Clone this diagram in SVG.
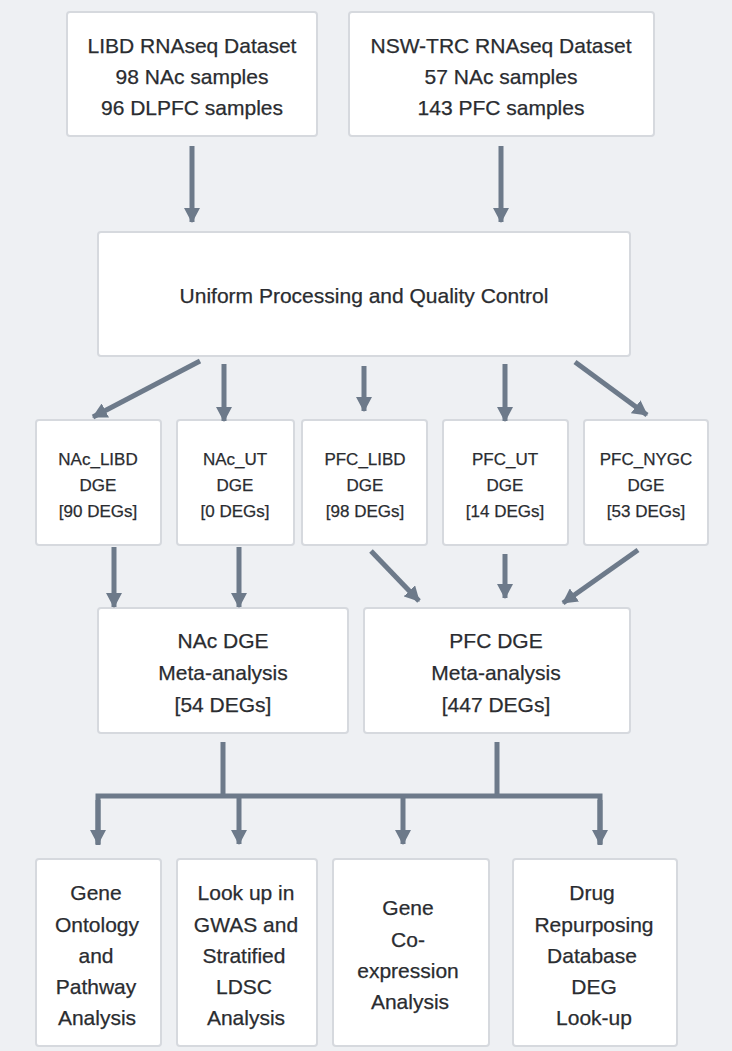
<svg xmlns="http://www.w3.org/2000/svg" width="732" height="1051" viewBox="0 0 732 1051">
<defs>
<marker id="ah" markerUnits="userSpaceOnUse" markerWidth="16" markerHeight="16" viewBox="0 0 16 16" refX="14" refY="8" orient="auto">
<path d="M0,0 L15,8 L0,16 Z" fill="#6d7a8a"/>
</marker>
<style>
.box{fill:#ffffff;stroke:#d6d9de;stroke-width:2;}
.t{font-family:"Liberation Sans","DejaVu Sans",sans-serif;fill:#2a2c30;stroke:#2a2c30;stroke-width:0.25;text-anchor:middle;}
.big{font-size:21px;}
.sm{font-size:17px;}
.c line,.c path{stroke:#6d7a8a;stroke-width:5;fill:none;}
.c .a{marker-end:url(#ah);}
</style>
</defs>
<rect width="732" height="1051" fill="#eef0f3"/>

<g id="libd">
<rect class="box" x="67" y="12" width="250" height="124" rx="3"/>
<text class="t big" x="192" y="53">LIBD RNAseq Dataset</text>
<text class="t big" x="192" y="84">98 NAc samples</text>
<text class="t big" x="192" y="115">96 DLPFC samples</text>
</g>
<g id="nswtrc">
<rect class="box" x="349" y="12" width="305" height="124" rx="3"/>
<text class="t big" x="501" y="53">NSW-TRC RNAseq Dataset</text>
<text class="t big" x="501" y="84">57 NAc samples</text>
<text class="t big" x="501" y="115">143 PFC samples</text>
</g>
<g id="uniform">
<rect class="box" x="98" y="232" width="532" height="124" rx="3"/>
<text class="t big" x="364" y="303">Uniform Processing and Quality Control</text>
</g>

<g id="nac_libd">
<rect class="box" x="36" y="420" width="125" height="125" rx="3"/>
<text class="t sm" x="98" y="465">NAc_LIBD</text>
<text class="t sm" x="98" y="491">DGE</text>
<text class="t sm" x="98" y="517">[90 DEGs]</text>
</g>
<g id="nac_ut">
<rect class="box" x="177" y="420" width="117" height="125" rx="3"/>
<text class="t sm" x="235" y="465">NAc_UT</text>
<text class="t sm" x="235" y="491">DGE</text>
<text class="t sm" x="235" y="517">[0 DEGs]</text>
</g>
<g id="pfc_libd">
<rect class="box" x="302" y="420" width="125" height="125" rx="3"/>
<text class="t sm" x="365" y="465">PFC_LIBD</text>
<text class="t sm" x="365" y="491">DGE</text>
<text class="t sm" x="365" y="517">[98 DEGs]</text>
</g>
<g id="pfc_ut">
<rect class="box" x="443" y="420" width="125" height="125" rx="3"/>
<text class="t sm" x="505" y="465">PFC_UT</text>
<text class="t sm" x="505" y="491">DGE</text>
<text class="t sm" x="505" y="517">[14 DEGs]</text>
</g>
<g id="pfc_nygc">
<rect class="box" x="584" y="420" width="124" height="125" rx="3"/>
<text class="t sm" x="646" y="465">PFC_NYGC</text>
<text class="t sm" x="646" y="491">DGE</text>
<text class="t sm" x="646" y="517">[53 DEGs]</text>
</g>

<g id="nac_meta">
<rect class="box" x="98" y="608" width="250" height="125" rx="3"/>
<text class="t big" x="223" y="648">NAc DGE</text>
<text class="t big" x="223" y="680">Meta-analysis</text>
<text class="t big" x="223" y="712">[54 DEGs]</text>
</g>
<g id="pfc_meta">
<rect class="box" x="364" y="608" width="266" height="125" rx="3"/>
<text class="t big" x="496" y="648">PFC DGE</text>
<text class="t big" x="496" y="680">Meta-analysis</text>
<text class="t big" x="496" y="712">[447 DEGs]</text>
</g>

<g id="go">
<rect class="box" x="36" y="859" width="125" height="187" rx="3"/>
<text class="t big" x="96" y="900">Gene</text>
<text class="t big" x="97" y="932">Ontology</text>
<text class="t big" x="96" y="963">and</text>
<text class="t big" x="96" y="994">Pathway</text>
<text class="t big" x="97" y="1025">Analysis</text>
</g>
<g id="gwas">
<rect class="box" x="177" y="859" width="140" height="187" rx="3"/>
<text class="t big" x="246" y="900">Look up in</text>
<text class="t big" x="246" y="932">GWAS and</text>
<text class="t big" x="244" y="963">Stratified</text>
<text class="t big" x="244" y="994">LDSC</text>
<text class="t big" x="246" y="1025">Analysis</text>
</g>
<g id="coexp">
<rect class="box" x="333" y="859" width="156" height="187" rx="3"/>
<text class="t big" x="408" y="915">Gene</text>
<text class="t big" x="408" y="947">Co-</text>
<text class="t big" x="408" y="978">expression</text>
<text class="t big" x="410" y="1009">Analysis</text>
</g>
<g id="drug">
<rect class="box" x="513" y="859" width="164" height="187" rx="3"/>
<text class="t big" x="592" y="900">Drug</text>
<text class="t big" x="594" y="932">Repurposing</text>
<text class="t big" x="592" y="963">Database</text>
<text class="t big" x="594" y="994">DEG</text>
<text class="t big" x="594" y="1025">Look-up</text>
</g>

<g id="connectors" class="c">
<line class="a" x1="192" y1="146" x2="192" y2="222"/>
<line class="a" x1="501" y1="146" x2="501" y2="222"/>
<line class="a" x1="200" y1="361" x2="93" y2="417"/>
<line class="a" x1="224" y1="364" x2="224" y2="421"/>
<line class="a" x1="364" y1="366" x2="364" y2="411"/>
<line class="a" x1="505" y1="364" x2="505" y2="421"/>
<line class="a" x1="575" y1="362" x2="647" y2="415"/>
<line class="a" x1="114" y1="547" x2="114" y2="607"/>
<line class="a" x1="239" y1="547" x2="239" y2="607"/>
<line class="a" x1="371" y1="551" x2="419" y2="601"/>
<line class="a" x1="505" y1="554" x2="505" y2="598"/>
<line class="a" x1="638" y1="550" x2="563" y2="603"/>
<line x1="223" y1="742" x2="223" y2="796"/>
<line x1="497" y1="742" x2="497" y2="796"/>
<path d="M98,845 V796 H600 V845"/>
<line x1="98" y1="800" x2="98" y2="844" class="a"/>
<line class="a" x1="239" y1="796" x2="239" y2="844"/>
<line class="a" x1="403" y1="796" x2="403" y2="844"/>
<line class="a" x1="600" y1="800" x2="600" y2="844"/>
</g>
</svg>
